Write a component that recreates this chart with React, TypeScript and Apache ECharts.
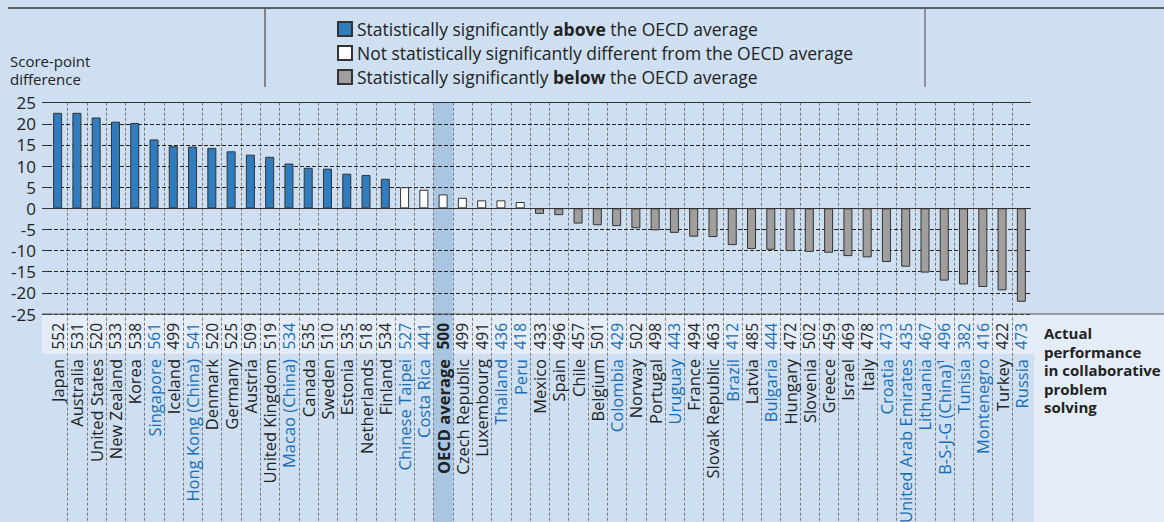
import React, { useEffect, useRef } from 'react';
import * as echarts from 'echarts';

const countries = [
  'Japan', 'Australia', 'United States', 'New Zealand', 'Korea', 'Singapore', 'Iceland',
  'Hong Kong (China)', 'Denmark', 'Germany', 'Austria', 'United Kingdom', 'Macao (China)',
  'Canada', 'Sweden', 'Estonia', 'Netherlands', 'Finland', 'Chinese Taipei', 'Costa Rica',
  'OECD average', 'Czech Republic', 'Luxembourg', 'Thailand', 'Peru', 'Mexico', 'Spain',
  'Chile', 'Belgium', 'Colombia', 'Norway', 'Portugal', 'Uruguay', 'France',
  'Slovak Republic', 'Brazil', 'Latvia', 'Bulgaria', 'Hungary', 'Slovenia', 'Greece',
  'Israel', 'Italy', 'Croatia', 'United Arab Emirates', 'Lithuania', 'B-S-J-G (China)¹',
  'Tunisia', 'Montenegro', 'Turkey', 'Russia'
];

const performance = [
  552, 531, 520, 533, 538, 561, 499, 541, 520, 525, 509, 519, 534, 535, 510, 535, 518, 534,
  527, 441, 500, 499, 491, 436, 418, 433, 496, 457, 501, 429, 502, 498, 443, 494, 463, 412,
  485, 444, 472, 502, 459, 469, 478, 473, 435, 467, 496, 382, 416, 422, 473
];

const difference = [
  22.6, 22.6, 21.5, 20.5, 20.2, 16.3, 14.7, 14.6, 14.3, 13.5, 12.7, 12.2, 10.6, 9.6, 9.4,
  8.2, 7.9, 7.0, 5.0, 4.4, 3.3, 2.5, 1.9, 1.9, 1.5, -1.3, -1.6, -3.6, -4.0, -4.2, -4.7,
  -5.2, -5.8, -6.7, -6.8, -8.7, -9.6, -9.8, -10.1, -10.3, -10.5, -11.3, -11.6, -12.7,
  -13.8, -15.2, -17.1, -18.0, -18.6, -19.4, -22.1
];

// A = above, N = not significant, B = below
const significance = [
  'A', 'A', 'A', 'A', 'A', 'A', 'A', 'A', 'A', 'A', 'A', 'A', 'A', 'A', 'A', 'A', 'A', 'A',
  'N', 'N', 'N', 'N', 'N', 'N', 'N',
  'B', 'B', 'B', 'B', 'B', 'B', 'B', 'B', 'B', 'B', 'B', 'B', 'B', 'B', 'B', 'B', 'B', 'B',
  'B', 'B', 'B', 'B', 'B', 'B', 'B', 'B'
];

const partners = [
  'Singapore', 'Hong Kong (China)', 'Macao (China)', 'Chinese Taipei', 'Costa Rica',
  'Thailand', 'Peru', 'Colombia', 'Uruguay', 'Brazil', 'Bulgaria', 'Croatia',
  'United Arab Emirates', 'Lithuania', 'B-S-J-G (China)¹', 'Tunisia', 'Montenegro', 'Russia'
];

const legendNames = [
  'Statistically significantly above the OECD average',
  'Not statistically significantly different from the OECD average',
  'Statistically significantly below the OECD average'
];

const yMin = -25;
const yMax = 25;
const yStep = 5;

const FONT = 'Open Sans';
const BG = '#cddff0';
const LIGHT = '#e4edf7';
const HILITE = '#a8c6e2';
const BLUE_TEXT = '#1a6db5';
const BAR_BLUE = '#2f7dbf';
const BAR_GRAY = '#a09f9d';
const DARK = '#222';

const labelColor = (name: string) => (partners.includes(name) ? BLUE_TEXT : DARK);

export default function App() {
  const ref = useRef<HTMLDivElement>(null);

  useEffect(() => {
    if (!ref.current) return;
    const chart = echarts.init(ref.current, undefined, { renderer: 'svg' });

    const seriesFor = (code: string, name: string, color: string) => ({
      name,
      type: 'bar',
      stack: 'all',
      barWidth: 9,
      xAxisIndex: 0,
      yAxisIndex: 0,
      itemStyle: { color, borderColor: '#333', borderWidth: 1 },
      data: difference.map((v, i) => (significance[i] === code ? v : '-')),
    });

    const s0: any = seriesFor('A', legendNames[0], BAR_BLUE);
    s0.markLine = {
      silent: true,
      symbol: 'none',
      label: { show: false },
      lineStyle: { color: '#333', width: 1.2, type: 'solid' },
      data: [{ yAxis: 0 }, { yAxis: yMax }],
    };

    chart.setOption({
      animation: false,
      backgroundColor: BG,
      title: {
        text: 'Score-point\ndifference',
        left: 10,
        top: 52,
        padding: 0,
        textStyle: { fontSize: 15, fontWeight: 'normal', color: DARK, lineHeight: 18, fontFamily: FONT },
      },
      legend: {
        orient: 'vertical',
        left: 337,
        top: 20,
        padding: 0,
        itemWidth: 14,
        itemHeight: 14,
        itemGap: 6,
        icon: 'rect',
        selectedMode: false,
        data: legendNames,
        textStyle: {
          fontSize: 17.5,
          color: DARK,
          fontFamily: FONT,
          rich: { b: { fontSize: 17.5, fontWeight: 'bold', color: DARK, fontFamily: FONT } },
        },
        formatter: (name: string) =>
          name.replace(' above ', ' {b|above} ').replace(' below ', ' {b|below} '),
      },
      grid: {
        left: 48, right: 133, top: 102.7, bottom: 208,
        containLabel: false, outerBoundsMode: 'none',
      },
      xAxis: [
        {
          type: 'category',
          data: countries,
          position: 'bottom',
          axisLine: { show: false },
          axisTick: { show: false },
          splitLine: { show: false },
          axisLabel: {
            interval: 0,
            rotate: 90,
            margin: 9,
            fontSize: 15.5,
            fontFamily: FONT,
            color: (v: string) => labelColor(v),
            formatter: (v: string, i: number) =>
              v === 'OECD average' ? `{o|${performance[i]}}` : String(performance[i]),
            rich: { o: { color: DARK, fontSize: 15.5, fontFamily: FONT, fontWeight: 'bold' } },
          },
        },
        {
          type: 'category',
          data: countries,
          position: 'bottom',
          offset: 36,
          axisLine: { show: false },
          axisTick: { show: false },
          splitLine: { show: false },
          axisLabel: {
            interval: 0,
            rotate: 90,
            margin: 9,
            fontSize: 16.5,
            fontFamily: FONT,
            color: (v: string) => labelColor(v),
            formatter: (v: string) => (v === 'OECD average' ? `{o|${v}}` : v),
            rich: { o: { color: DARK, fontSize: 16.5, fontFamily: FONT, fontWeight: 'bold' } },
          },
        },
      ],
      yAxis: {
        type: 'value',
        min: yMin,
        max: yMax,
        interval: yStep,
        axisLine: { show: false },
        axisTick: { show: true, length: 6, lineStyle: { color: '#333', width: 1 } },
        axisLabel: { fontSize: 17, color: DARK, margin: 12, fontFamily: FONT },
        splitLine: { show: true, lineStyle: { color: '#222', type: [4, 2], width: 1 } },
      },
      series: [
        s0,
        seriesFor('N', legendNames[1], '#ffffff'),
        seriesFor('B', legendNames[2], BAR_GRAY),
      ],
    });

    const xs = countries.map((c) => chart.convertToPixel({ xAxisIndex: 0 }, c) as number);
    const step = xs[1] - xs[0];
    const yTop = chart.convertToPixel({ yAxisIndex: 0 }, yMax) as number;
    const yBot = chart.convertToPixel({ yAxisIndex: 0 }, yMin) as number;
    const H = 522;
    const W = 1164;
    const plotRight = xs[xs.length - 1] + step / 2 + 3;
    const oi = countries.indexOf('OECD average');

    const graphics: any[] = [
      { type: 'rect', z: -20, silent: true, shape: { x: 42, y: yBot, width: W - 42, height: 40 }, style: { fill: LIGHT } },
      { type: 'rect', z: -20, silent: true, shape: { x: plotRight, y: yBot, width: W - plotRight, height: H - yBot }, style: { fill: LIGHT } },
      { type: 'rect', z: -10, silent: true, shape: { x: xs[oi] - step / 2, y: yTop, width: step, height: H - yTop }, style: { fill: HILITE } },
      { type: 'line', z: 5, silent: true, shape: { x1: 42, y1: yBot, x2: W, y2: yBot }, style: { stroke: '#555', lineWidth: 1.2 } },
      { type: 'line', z: 5, silent: true, shape: { x1: 8, y1: 8, x2: W, y2: 8 }, style: { stroke: '#333', lineWidth: 1.3 } },
      { type: 'line', z: 5, silent: true, shape: { x1: 265, y1: 8, x2: 265, y2: 87 }, style: { stroke: '#555', lineWidth: 1.3 } },
      { type: 'line', z: 5, silent: true, shape: { x1: 925, y1: 8, x2: 925, y2: 87 }, style: { stroke: '#667', lineWidth: 1.3 } },
      {
        type: 'text', z: 5, silent: true, x: 1044, y: 324,
        style: {
          text: 'Actual\nperformance\nin collaborative\nproblem\nsolving',
          fontFamily: FONT, fontWeight: 'bold', fontSize: 15, fill: DARK, lineHeight: 18.5,
        },
      },
    ];
    for (let i = 1; i < xs.length; i++) {
      const x = Math.round((xs[i - 1] + xs[i]) / 2) + 0.5;
      graphics.push({
        type: 'line', z: -5, silent: true,
        shape: { x1: x, y1: yTop, x2: x, y2: H },
        style: { stroke: '#777', lineWidth: 1, lineDash: [3, 2] },
      });
    }
    chart.setOption({ graphic: graphics });

    return () => chart.dispose();
  }, []);

  return (
    <div
      ref={ref}
      style={{ position: 'absolute', left: 0, top: 0, width: 1164, height: 522 }}
    />
  );
}
